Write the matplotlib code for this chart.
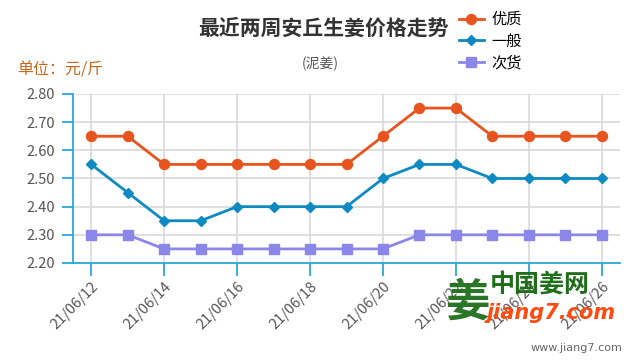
import matplotlib
matplotlib.use("Agg")
import matplotlib.pyplot as plt

plt.rcParams['font.family'] = ['Noto Sans CJK SC', 'DejaVu Sans']

dates = ["21/06/12", "21/06/13", "21/06/14", "21/06/15", "21/06/16", "21/06/17", "21/06/18",
         "21/06/19", "21/06/20", "21/06/21", "21/06/22", "21/06/23", "21/06/24", "21/06/25", "21/06/26"]
youzhi = [2.65, 2.65, 2.55, 2.55, 2.55, 2.55, 2.55, 2.55, 2.65, 2.75, 2.75, 2.65, 2.65, 2.65, 2.65]
yiban = [2.55, 2.45, 2.35, 2.35, 2.40, 2.40, 2.40, 2.40, 2.50, 2.55, 2.55, 2.50, 2.50, 2.50, 2.50]
cihuo = [2.30, 2.30, 2.25, 2.25, 2.25, 2.25, 2.25, 2.25, 2.25, 2.30, 2.30, 2.30, 2.30, 2.30, 2.30]
series_names = ["优质", "一般", "次货"]
y_ticks = [2.20, 2.30, 2.40, 2.50, 2.60, 2.70, 2.80]

fig = plt.figure(figsize=(6.4, 3.6), dpi=100)
ax = fig.add_axes([73/640, 1-263/360, (620-73)/640, (263-94)/360])

x = list(range(len(dates)))
axis_blue = '#2aa8dc'
ax.plot(x, youzhi, color='#e8541e', lw=2.0, marker='o', ms=7.2, label=series_names[0], zorder=5)
ax.plot(x, yiban, color='#0e8ac2', lw=2.0, marker='D', ms=5.5, label=series_names[1], zorder=5)
ax.plot(x, cihuo, color='#8b87e8', lw=2.0, marker='s', ms=7, label=series_names[2], zorder=5)

ax.set_xlim(-0.5, len(dates) - 0.5)
ax.set_ylim(2.20, 2.80)
ax.set_yticks(y_ticks)
ax.set_yticklabels([f"{v:.2f}" for v in y_ticks], fontsize=10.5, color='#555555')
xt = x[::2]
ax.set_xticks(xt)
ax.set_xticklabels([dates[i] for i in xt], rotation=45, ha='right', rotation_mode='anchor',
                   fontsize=10.5, color='#555555')

ax.grid(True, color='#d9d9d9', lw=1.2)
ax.set_axisbelow(True)
for s in ['top', 'right']:
    ax.spines[s].set_visible(False)
for s in ['left', 'bottom']:
    ax.spines[s].set_color(axis_blue)
    ax.spines[s].set_linewidth(1.3)
ax.tick_params(axis='y', length=8, width=1.3, color=axis_blue, pad=5)
ax.tick_params(axis='x', length=9, width=1.3, color=axis_blue, pad=3)

fig.text(323/640, 1-28/360, "最近两周安丘生姜价格走势", ha='center', va='center',
         fontsize=15, fontweight='bold', color='#333333')
fig.text(320/640, 1-64/360, "(泥姜)", ha='center', va='center', fontsize=10, color='#555555')
fig.text(17/640, 1-70/360, "单位：元/斤", ha='left', va='center', fontsize=11.5, color='#c8661e')

fig.legend(loc='upper left', bbox_to_anchor=(453/640, 1-5/360), frameon=False,
           fontsize=11, handlelength=1.6, handletextpad=0.5, labelspacing=0.3,
           borderaxespad=0)

# watermark
fig.text(467/640, 1-303/360, "姜", ha='center', va='center', fontsize=32,
         fontweight='bold', color='#1f6e1a', alpha=0.95)
fig.text(490/640, 1-285/360, "中国姜网", ha='left', va='center', fontsize=18,
         fontweight='bold', color='#1f6e1a')
fig.text(487/640, 1-313/360, "jiang7.com", ha='left', va='center', fontsize=15,
         fontweight='bold', fontstyle='italic', color='#ff4a10', family='DejaVu Sans')
fig.text(622/640, 1-348/360, "www.jiang7.com", ha='right', va='center', fontsize=8,
         color='#666666', family='DejaVu Sans')

fig.savefig("out.png", dpi=100)
